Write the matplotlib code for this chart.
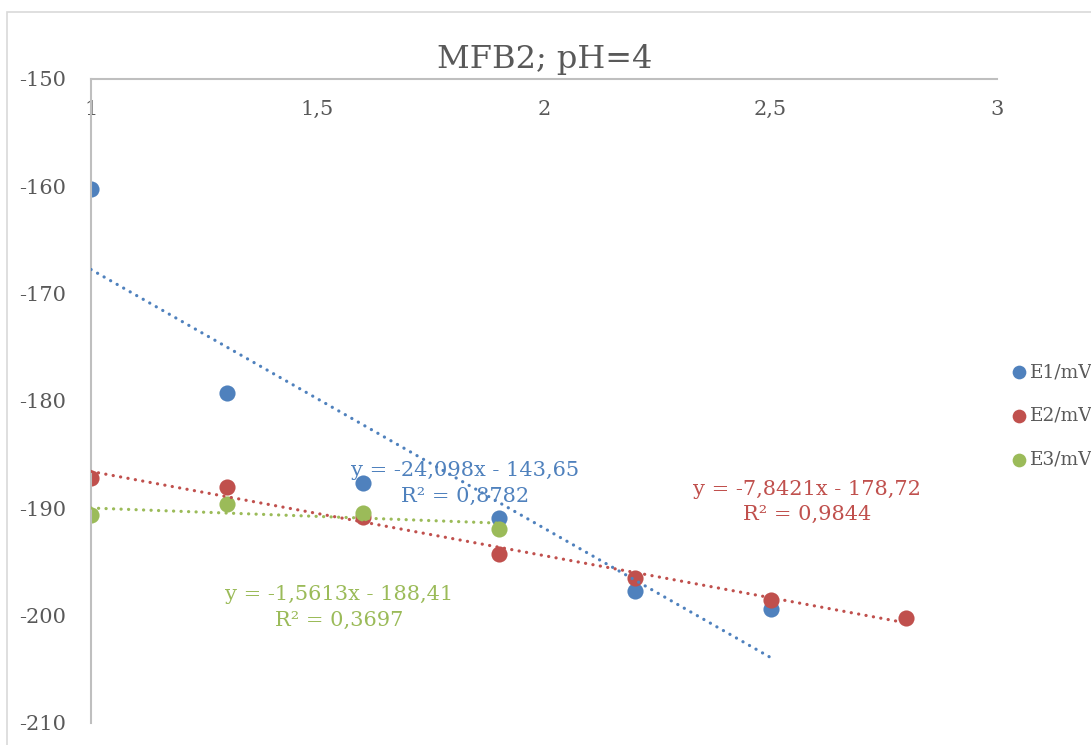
import numpy as np
from matplotlib import pyplot as plt
from matplotlib.patches import Rectangle

# data
x1 = [1, 1.3, 1.6, 1.9, 2.2, 2.5]
e1 = [-160.25, -179.25, -187.65, -190.9, -197.7, -199.35]
x2 = [1, 1.3, 1.6, 1.9, 2.2, 2.5, 2.8]
e2 = [-187.2, -188.0, -190.8, -194.3, -196.45, -198.5, -200.2]
x3 = [1, 1.3, 1.6, 1.9]
e3 = [-190.6, -189.6, -190.4, -191.95]

# trendline coefficients (slope, intercept) as printed on the chart
fit1 = (-24.098, -143.65)
fit2 = (-7.8421, -178.72)
fit3 = (-1.5613, -188.41)
fit_text1 = "y = -24,098x - 143,65\nR² = 0,8782"
fit_text2 = "y = -7,8421x - 178,72\nR² = 0,9844"
fit_text3 = "y = -1,5613x - 188,41\nR² = 0,3697"

labels = ["E1/mV", "E2/mV", "E3/mV"]
x_ticks = [1, 1.5, 2, 2.5, 3]
x_tick_labels = ["1", "1,5", "2", "2,5", "3"]
y_ticks = [-150, -160, -170, -180, -190, -200, -210]
y_tick_labels = ["-150", "-160", "-170", "-180", "-190", "-200", "-210"]

blue = '#4F81BD'
red = '#C0504D'
green = '#9BBB59'
grey_txt = '#595959'
grey_ax = '#BFBFBF'

plt.rcParams['font.family'] = ['DejaVu Serif']
fs = 15

W, H = 1091, 745
fig = plt.figure(figsize=(W/100, H/100), dpi=100)
ax = fig.add_axes([91/W, 1-723/H, (997-91)/W, (723-79)/H])

# chart border (cropped at right and bottom)
fig.patches.append(Rectangle((7/W, -0.1), 1.2, 1-12/H+0.1, transform=fig.transFigure,
                             fill=False, edgecolor='#D9D9D9', lw=1.2))

for xs, ys, c, lab in [(x1, e1, blue, labels[0]), (x2, e2, red, labels[1]), (x3, e3, green, labels[2])]:
	ax.scatter(xs, ys, s=135, color=c, label=lab, zorder=2, linewidths=0)

# trendlines over the fitted x range
for xs, fit, c in [(x1, fit1, blue), (x2, fit2, red), (x3, fit3, green)]:
	xx = np.array([min(xs), max(xs)])
	ax.plot(xx, fit[0]*xx + fit[1], color=c, lw=2.3, linestyle=(0, (0.05, 2.3)),
	        dash_capstyle='round', zorder=3)

ax.text(1.826, -187.7, fit_text1, color=blue, fontsize=fs, ha='center', va='center',
        linespacing=1.45, zorder=4)
ax.text(2.58, -189.4, fit_text2, color=red, fontsize=fs, ha='center', va='center',
        linespacing=1.45, zorder=4)
ax.text(1.547, -199.2, fit_text3, color=green, fontsize=fs, ha='center', va='center',
        linespacing=1.45, zorder=4)

ax.set_xlim(1, 3)
ax.set_ylim(-210, -150)
ax.set_xticks(x_ticks)
ax.set_xticklabels(x_tick_labels)
ax.set_yticks(y_ticks)
ax.set_yticklabels(y_tick_labels)

for s in ['right', 'bottom']:
	ax.spines[s].set_visible(False)
for s in ['left', 'top']:
	ax.spines[s].set_color(grey_ax)
	ax.spines[s].set_linewidth(1.5)

ax.tick_params(axis='x', top=True, bottom=False, labeltop=True, labelbottom=False,
               length=0, pad=-29, labelsize=fs, labelcolor=grey_txt)
ax.tick_params(axis='y', length=0, pad=18, labelsize=fs, labelcolor=grey_txt)

fig.text(545/W, 1-68/H, "MFB2; pH=4", fontsize=23, color=grey_txt, ha='center', va='baseline')

leg = ax.legend(loc='center left', bbox_to_anchor=(1008/W, 1-416/H), bbox_transform=fig.transFigure,
                frameon=False, fontsize=13.3, handletextpad=0.0, labelspacing=1.4, markerscale=0.85,
                borderpad=0, borderaxespad=0, handlelength=1.2)
for t in leg.get_texts():
	t.set_color(grey_txt)

fig.savefig('out.png', dpi=100)
